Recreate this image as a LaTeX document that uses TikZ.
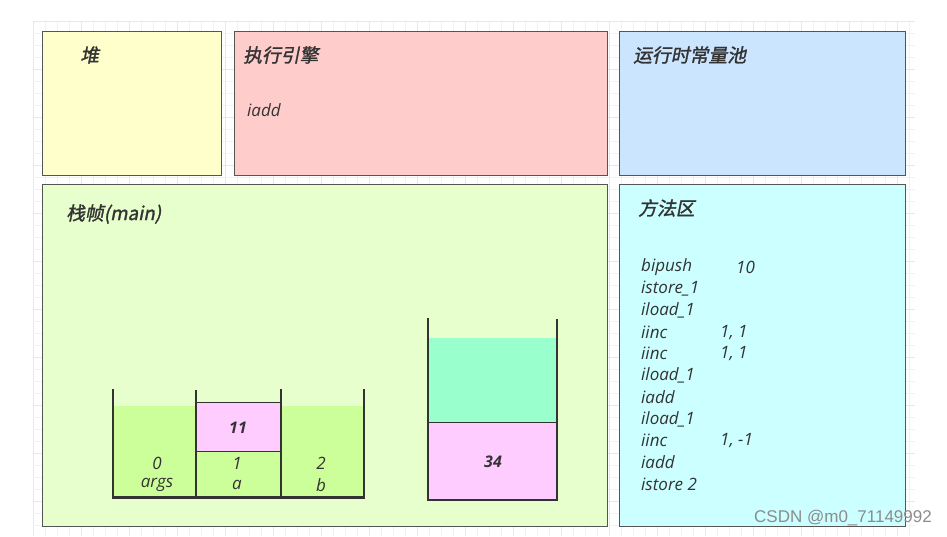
\documentclass[tikz,border=0pt]{standalone}
\usepackage{fontspec}
\setmainfont{Open Sans}
\newfontfamily\cjkh[FakeSlant=0.2,FakeBold=1.5]{Noto Sans CJK SC}
\newfontfamily\wmfont{Liberation Sans}
\definecolor{txt}{HTML}{333333}
\definecolor{bord}{HTML}{555555}
\definecolor{cheap}{HTML}{FFFFCC}
\definecolor{ceng}{HTML}{FFCCCC}
\definecolor{cpool}{HTML}{CCE5FF}
\definecolor{cframe}{HTML}{E6FFCC}
\definecolor{cmeth}{HTML}{CCFFFF}
\definecolor{cslot}{HTML}{CCFF99}
\definecolor{cpink}{HTML}{FFCCFF}
\definecolor{cteal}{HTML}{99FFCC}
\tikzset{
  area/.style={draw=bord, line width=1.2pt, anchor=north west, inner sep=0pt},
  head/.style={anchor=west, inner sep=0pt, text=txt, font=\cjkh\fontsize{18.8}{22}\selectfont},
  code/.style={anchor=west, inner sep=0pt, text=txt, font=\itshape\fontsize{17}{20}\selectfont},
  num/.style={inner sep=0pt, text=txt, font=\bfseries\itshape\fontsize{16}{19}\selectfont},
  lbl/.style={inner sep=0pt, text=txt, font=\itshape\fontsize{17}{20}\selectfont},
  wall/.style={draw=txt, line width=2.2pt},
  thin/.style={draw=txt, line width=0.9pt},
}
\begin{document}
\begin{tikzpicture}[x=1pt,y=-1pt]
\useasboundingbox (0,0) rectangle (947,536);
% faint grid
\foreach \i in {0,...,73} {
  \pgfmathtruncatemacro{\m}{mod(\i,4)}
  \ifnum\m=0 \def\gc{black!9}\else\def\gc{black!5}\fi
  \draw[\gc, line width=0.6pt] (33+12*\i,21) -- (33+12*\i,536);
}
\foreach \j in {0,...,42} {
  \pgfmathtruncatemacro{\m}{mod(\j,4)}
  \ifnum\m=0 \def\gc{black!9}\else\def\gc{black!5}\fi
  \draw[\gc, line width=0.6pt] (33,21+12*\j) -- (915,21+12*\j);
}
% areas
\node[area, fill=cheap, minimum width=179pt, minimum height=144pt] (heap) at (42,31) {};
\node[area, fill=ceng, minimum width=373pt, minimum height=144pt] (engine) at (234,31) {};
\node[area, fill=cpool, minimum width=286pt, minimum height=144pt] (pool) at (619,31) {};
\node[area, fill=cframe, minimum width=565pt, minimum height=342pt] (frame) at (42,184) {};
\node[area, fill=cmeth, minimum width=286pt, minimum height=342pt] (method) at (619,184) {};
% headings
\node[head] (heapt) at (80,55) {堆};
\node[head] (enginet) at (243,55) {执行引擎};
\node[code] (eiadd) at (247,110) {iadd};
\node[head] (poolt) at (633,55) {运行时常量池};
\node[head] (framet) at (66,214) {栈帧(main)};
\node[head] (metht) at (638,208) {方法区};
% method code
\foreach \t [count=\k from 0] in {bipush,istore\_1,iload\_1,iinc,iinc,iload\_1,iadd,iload\_1,iinc,iadd,istore 2} {
  \node[code] (c\k) at (641,267+21.7*\k) {\t};
}
\node[code] (a0) at (736,267) {10};
\node[code] (a3) at (720,267+21.7*3) {1, 1};
\node[code] (a4) at (720,267+21.7*4) {1, 1};
\node[code] (a8) at (720,267+21.7*8) {1, -1};
% local variable table
\fill[cslot] (113,406) rectangle (196,497);
\fill[cslot] (281,406) rectangle (364,497);
\fill[cslot] (196,451) rectangle (281,497);
\filldraw[fill=cpink, thin] (196,402) rectangle (281,451);
\draw[wall] (112.7,389) -- (112.7,497.5) -- (364,497.5) -- (364,389);
\draw[wall] (196,390) -- (196,497.5);
\draw[wall] (280.7,389) -- (280.7,497.5);
\node[num] (v11) at (238,428) {11};
\node[lbl] (i0) at (157,463) {0};
\node[lbl] (n0) at (157,485) {args};
\node[lbl] (i1) at (237,463) {1};
\node[lbl] (n1) at (237,485) {a};
\node[lbl] (i2) at (321,463) {2};
\node[lbl] (n2) at (321,485) {b};
% operand stack
\fill[cteal] (428,338) rectangle (557,422);
\fill[cpink] (428,422) rectangle (557,500);
\draw[thin] (428,422) -- (557,422);
\draw[wall] (428,318) -- (428,500) -- (557,500) -- (557,319);
\node[num] (v34) at (493,462) {34};
% watermark
\node[anchor=east, inner sep=0pt, text=black!45, font=\wmfont\fontsize{17}{20}\selectfont] (wm) at (932,518) {CSDN @m0\_71149992};
\end{tikzpicture}
\end{document}
